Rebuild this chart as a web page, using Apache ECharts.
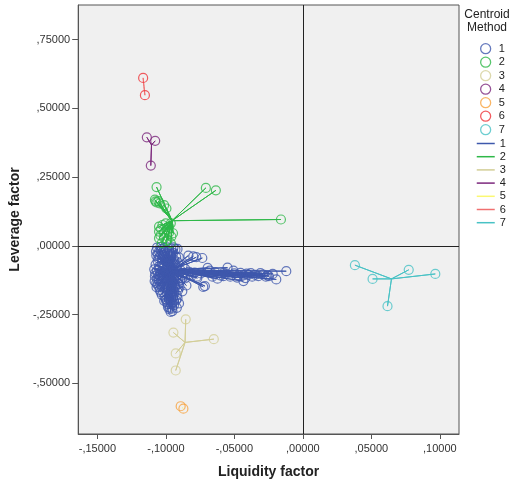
<!DOCTYPE html>
<html>
<head>
<meta charset="utf-8">
<script src="https://cdn.jsdelivr.net/npm/echarts@6/dist/echarts.min.js"></script>
<style>
  html, body { margin: 0; padding: 0; background: #fff; }
  #chart { width: 513px; height: 484px; }
</style>
</head>
<body>
<div id="chart"></div>
<script>
// tick labels
const xTicks = [-0.15, -0.10, -0.05, 0, 0.05, 0.10]
const yTicks = [-0.50, -0.25, 0, 0.25, 0.50, 0.75]

const groupNames = ['1', '2', '3', '4', '5', '6', '7']
const markerColors = ['#3E58AC', '#2EB848', '#D3CE97', '#7C287D', '#F8A33F', '#EF3338', '#48C2C5']
const lineColors = ['#3E58AC', '#2EB848', '#D3CE97', '#7C287D', '#FBF873', '#F07070', '#48C2C5']

// centroid of each method (liquidity, leverage)
const centroids = [
  [-0.0964, -0.0877],
  [-0.0955, 0.0916],
  [-0.0860, -0.351],
  [-0.1105, 0.367],
  [-0.0882, -0.5875],
  [-0.1160, 0.580],
  [0.0647, -0.120]
]

const group1 = [
  [-0.1065, -0.006], [-0.1040, -0.004], [-0.1015, -0.008], [-0.0990, -0.005], [-0.0960, -0.010],
  [-0.0930, -0.012], [-0.0915, -0.011], [-0.1050, -0.020], [-0.1010, -0.022], [-0.0975, -0.018],
  [-0.0945, -0.025], [-0.1070, -0.035], [-0.1045, -0.040], [-0.1020, -0.033], [-0.0995, -0.045],
  [-0.0965, -0.038], [-0.0940, -0.050], [-0.0905, -0.042], [-0.0836, -0.035], [-0.0778, -0.041],
  [-0.0734, -0.044], [-0.0800, -0.038], [-0.1060, -0.055], [-0.1030, -0.060], [-0.0985, -0.058],
  [-0.1075, -0.068], [-0.1050, -0.075], [-0.1020, -0.070], [-0.0995, -0.080], [-0.0970, -0.072],
  [-0.0945, -0.085], [-0.0920, -0.078], [-0.0890, -0.090], [-0.0860, -0.083], [-0.1065, -0.090],
  [-0.1040, -0.095], [-0.1010, -0.088], [-0.0980, -0.098], [-0.0955, -0.092], [-0.0930, -0.100],
  [-0.0900, -0.096], [-0.0870, -0.099], [-0.0830, -0.094], [-0.0790, -0.097], [-0.0745, -0.100],
  [-0.0695, -0.080], [-0.0695, -0.096], [-0.0623, -0.119], [-0.0579, -0.099], [-0.0550, -0.079],
  [-0.0507, -0.090], [-0.0470, -0.107], [-0.0434, -0.107], [-0.0434, -0.128], [-0.0420, -0.117],
  [-0.0398, -0.105], [-0.0347, -0.105], [-0.0325, -0.110], [-0.0290, -0.104], [-0.0259, -0.107],
  [-0.0248, -0.110], [-0.0194, -0.122], [-0.0121, -0.092], [-0.0600, -0.108], [-0.0530, -0.112],
  [-0.0370, -0.112], [-0.0650, -0.104], [-0.0727, -0.149], [-0.0770, -0.117], [-0.0715, -0.146],
  [-0.0879, -0.117], [-0.0850, -0.144], [-0.1080, -0.110], [-0.1055, -0.118], [-0.1025, -0.105],
  [-0.1000, -0.125], [-0.0975, -0.112], [-0.0950, -0.130], [-0.0925, -0.118], [-0.0895, -0.125],
  [-0.1070, -0.135], [-0.1040, -0.140], [-0.1010, -0.148], [-0.0985, -0.138], [-0.0955, -0.150],
  [-0.0930, -0.142], [-0.0905, -0.138], [-0.1061, -0.141], [-0.1050, -0.126], [-0.1045, -0.160],
  [-0.1020, -0.168], [-0.0995, -0.158], [-0.0970, -0.175], [-0.0945, -0.165], [-0.0920, -0.180],
  [-0.1010, -0.185], [-0.0980, -0.192], [-0.0950, -0.188], [-0.0925, -0.198], [-0.0995, -0.205],
  [-0.0965, -0.212], [-0.0985, -0.222], [-0.0955, -0.228], [-0.0904, -0.209], [-0.0972, -0.225],
  [-0.0952, -0.237], [-0.0996, -0.195], [-0.1035, -0.012], [-0.0985, -0.028], [-0.1005, -0.052],
  [-0.0950, -0.062], [-0.1045, -0.082], [-0.0935, -0.066], [-0.0915, -0.108], [-0.1060, -0.102],
  [-0.0990, -0.108], [-0.0965, -0.120], [-0.1035, -0.128], [-0.0940, -0.122], [-0.1015, -0.115],
  [-0.0960, -0.140], [-0.1025, -0.152], [-0.0990, -0.172], [-0.0960, -0.160], [-0.1030, -0.178],
  [-0.0935, -0.155], [-0.0970, -0.198], [-0.1000, -0.195], [-0.0950, -0.205], [-0.0975, -0.230],
  [-0.1050, -0.148], [-0.1065, -0.120], [-0.0880, -0.108], [-0.0860, -0.118], [-0.0840, -0.105],
  [-0.0815, -0.110], [-0.0775, -0.112], [-0.0900, -0.150], [-0.0880, -0.165], [-0.0910, -0.160],
  [-0.1005, -0.140], [-0.0945, -0.098], [-0.1055, -0.045], [-0.0960, -0.030], [-0.0925, -0.040],
  [-0.1000, -0.015], [-0.0945, -0.005], [-0.1072, -0.020], [-0.1058, -0.030], [-0.1028, -0.045],
  [-0.0968, -0.052], [-0.0912, -0.060], [-0.0878, -0.070], [-0.1085, -0.085], [-0.1078, -0.098],
  [-0.1048, -0.108], [-0.0998, -0.094], [-0.0942, -0.110], [-0.0908, -0.118], [-0.1082, -0.128],
  [-0.1068, -0.150], [-0.1038, -0.168], [-0.1012, -0.200], [-0.0985, -0.212], [-0.0962, -0.185],
  [-0.0938, -0.172], [-0.0915, -0.190], [-0.0940, -0.215], [-0.0920, -0.225], [-0.0965, -0.240],
  [-0.0680, -0.090], [-0.0640, -0.095], [-0.0560, -0.101], [-0.0500, -0.100], [-0.0455, -0.098],
  [-0.0410, -0.101], [-0.0380, -0.099], [-0.0310, -0.099], [-0.0270, -0.112], [-0.0220, -0.102],
  [-0.0580, -0.110], [-0.0480, -0.115], [-0.0660, -0.112]
]
const group2 = [
  [-0.1068, 0.214], [-0.0708, 0.211], [-0.0635, 0.202], [-0.0160, 0.096],
  [-0.1080, 0.168], [-0.1075, 0.162], [-0.1068, 0.158], [-0.1055, 0.163], [-0.1045, 0.155],
  [-0.1013, 0.148], [-0.0996, 0.136], [-0.1050, 0.070], [-0.1025, 0.076], [-0.1001, 0.082],
  [-0.0977, 0.070], [-0.0964, 0.082], [-0.1050, 0.052], [-0.1013, 0.046], [-0.0977, 0.048],
  [-0.0948, 0.046], [-0.1050, 0.028], [-0.1013, 0.028], [-0.0988, 0.022], [-0.1030, 0.010],
  [-0.0964, 0.010], [-0.1000, 0.016], [-0.1035, 0.062], [-0.0990, 0.058], [-0.1040, 0.038],
  [-0.0960, 0.034]
]
const group3 = [[-0.0855, -0.267], [-0.0945, -0.315], [-0.0650, -0.339], [-0.0928, -0.391], [-0.0928, -0.453]]
const group4 = [[-0.1139, 0.395], [-0.1078, 0.382], [-0.1110, 0.292]]
const group5 = [[-0.0892, -0.583], [-0.0872, -0.592]]
const group6 = [[-0.1166, 0.611], [-0.1153, 0.548]]
const group7 = [[0.0380, -0.070], [0.0509, -0.120], [0.0773, -0.087], [0.0967, -0.102], [0.0618, -0.219]]

const groups = [group1, group2, group3, group4, group5, group6, group7]

function fmt(v) {
  const s = Math.abs(v).toFixed(5).replace(/^0/, '').replace('.', ',')
  return (v < -1e-9 ? '-' : '') + s
}

// star lines: centroid -> point -> centroid -> next point ...
function starPath(c, pts) {
  const out = [c]
  pts.forEach(p => { out.push(p); out.push(c) })
  return out
}

const scatterSeries = groups.map((pts, i) => ({
  name: groupNames[i],
  type: 'scatter',
  data: pts,
  symbol: 'circle',
  symbolSize: 9,
  z: 3,
  itemStyle: { color: 'rgba(0,0,0,0)', borderColor: markerColors[i], borderWidth: 1.2 }
}))

const lineSeries = groups.map((pts, i) => ({
  name: groupNames[i] + ' ',
  type: 'line',
  data: starPath(centroids[i], pts),
  symbol: 'none',
  z: 2,
  color: lineColors[i],
  lineStyle: { color: lineColors[i], width: 1 }
}))

const chart = echarts.init(document.getElementById('chart'))
chart.setOption({
  animation: false,
  textStyle: { fontFamily: 'Liberation Sans, Arial, sans-serif' },
  graphic: [{
    type: 'text',
    x: 487,
    y: 8,
    style: {
      text: 'Centroid\nMethod',
      align: 'center',
      fontSize: 12,
      lineHeight: 13,
      fontFamily: 'Liberation Sans, Arial, sans-serif',
      fill: '#222'
    }
  }],
  grid: {
    left: 77, top: 5, width: 382, height: 432,
    show: true, backgroundColor: '#F0F0F0', borderColor: '#555', borderWidth: 1
  },
  legend: [{
    orient: 'vertical', left: 480, top: 43, padding: 0,
    itemWidth: 10, itemHeight: 10, itemGap: 2.2,
    textStyle: { fontSize: 11, color: '#222', padding: [0, 0, 0, 3] },
    data: groupNames.map((n, i) => ({
      name: n, icon: 'circle',
      itemStyle: { color: 'rgba(0,0,0,0)', borderColor: markerColors[i], borderWidth: 1.3 }
    }))
  }, {
    orient: 'vertical', left: 476, top: 138, padding: 0,
    itemWidth: 18, itemHeight: 10, itemGap: 2.2,
    textStyle: { fontSize: 11, color: '#222' },
    data: groupNames.map((n, i) => ({
      name: n + ' ', icon: 'line',
      itemStyle: { color: lineColors[i], borderColor: lineColors[i], borderWidth: 1.5 }
    })),
    formatter: name => name.trim()
  }],
  xAxis: {
    type: 'value', min: -0.164, max: 0.114,
    name: 'Liquidity factor', nameLocation: 'middle', nameGap: 31,
    nameTextStyle: { fontSize: 14, fontWeight: 'bold', color: '#222' },
    axisLine: { show: true, onZero: false, lineStyle: { color: '#555' } },
    axisTick: { show: true, length: 5, customValues: xTicks, lineStyle: { color: '#555' } },
    axisLabel: { customValues: xTicks, formatter: fmt, fontSize: 11, color: '#333', margin: 9 },
    splitLine: { show: false }
  },
  yAxis: {
    type: 'value', min: -0.684, max: 0.876,
    name: 'Leverage factor', nameLocation: 'middle', nameGap: 45,
    nameTextStyle: { fontSize: 14, fontWeight: 'bold', color: '#222' },
    axisLine: { show: true, onZero: false, lineStyle: { color: '#555' } },
    axisTick: { show: true, length: 6, customValues: yTicks, lineStyle: { color: '#555' } },
    axisLabel: { customValues: yTicks, formatter: fmt, fontSize: 11, color: '#333', margin: 8 },
    splitLine: { show: false }
  },
  series: [{
    name: 'ref',
    type: 'line',
    data: [],
    z: 1,
    markLine: {
      silent: true,
      symbol: ['none', 'none'],
      label: { show: false },
      lineStyle: { color: '#222', width: 1, type: 'solid' },
      data: [{ xAxis: 0 }, { yAxis: 0 }]
    }
  }].concat(scatterSeries, lineSeries)
})
</script>
</body>
</html>
